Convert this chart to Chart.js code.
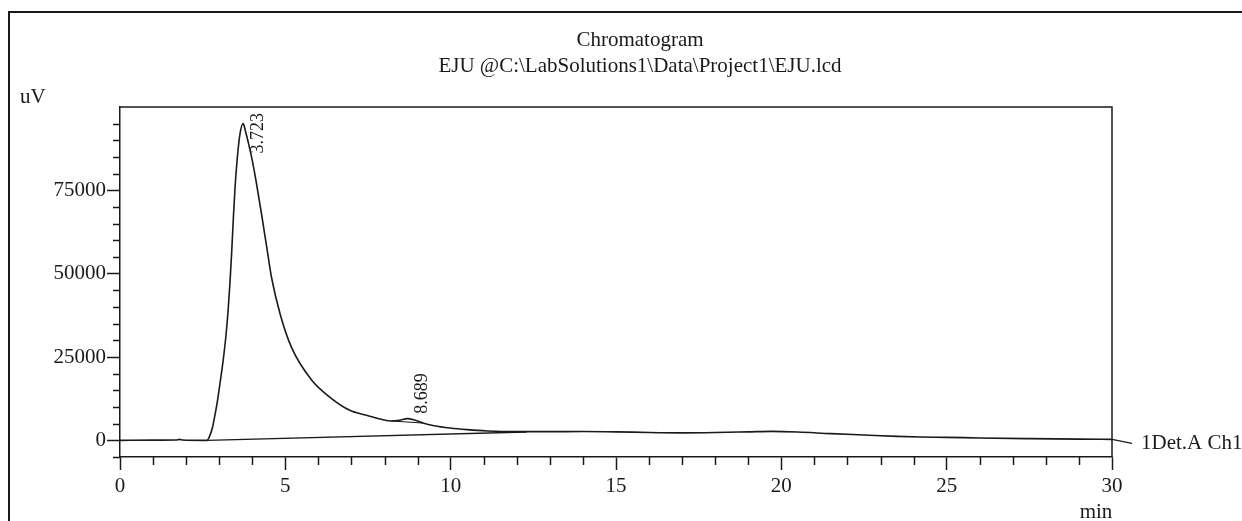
<!DOCTYPE html>
<html>
<head>
<meta charset="utf-8">
<title>Chromatogram</title>
<script src="https://cdn.jsdelivr.net/npm/chart.js@4.4.1/dist/chart.umd.min.js"></script>
<style>
  html, body { margin: 0; padding: 0; background: #fff; }
  #wrap { position: relative; width: 1242px; height: 521px; }
</style>
</head>
<body>
<div id="wrap"><canvas id="myChart" width="1242" height="521"></canvas></div>
<script>
var tiempos = [0, 1.0, 1.7, 1.8, 1.9, 2.5, 2.63, 2.72, 2.8, 2.87, 2.95, 3.03, 3.12, 3.2, 3.27, 3.33,
    3.38, 3.43, 3.48, 3.55, 3.63, 3.723, 3.8, 3.9, 4.0, 4.12, 4.28, 4.44, 4.58, 4.84, 5.19, 5.8,
    6.35, 6.95, 7.45, 7.9, 8.2, 8.45, 8.689, 8.9, 9.16, 9.5, 9.98, 10.5, 11.1, 12.0, 13.0, 14.0,
    15.0, 16.0, 17.0, 18.0, 19.0, 19.7, 20.5, 21.5, 22.5, 23.5, 24.2, 25.0, 26.0, 27.5, 29.0, 30.0];
var senal = [0, 50, 100, 300, 100, 0, 0, 1500, 4000, 7500, 12000, 17500, 24000, 31000, 39000, 48000,
    57000, 67000, 76000, 85000, 92000, 95000, 92500, 88500, 84000, 77500, 67900, 57800, 49000, 38000, 27800, 18000,
    12900, 9000, 7500, 6300, 5800, 6000, 6500, 6100, 5200, 4400, 3700, 3200, 2800, 2600, 2600, 2650,
    2550, 2350, 2250, 2350, 2550, 2700, 2500, 2000, 1600, 1200, 1000, 900, 700, 500, 350, 300];

// Línea base de integración del pico principal y del pico pequeño
var baseTiempos = [2.63, 12.3];
var baseSenal = [0, 2500];
var basePicoTiempos = [8.2, 9.16];
var basePicoSenal = [5800, 5200];

// Picos marcados
var picosTiempo = [3.723, 8.689];
var picosSenal = [95000, 6500];
var picosEtiqueta = ['3.723', '8.689'];

// Marcas de los ejes
var ticksX = [0, 5, 10, 15, 20, 25, 30];
var ticksY = [0, 25000, 50000, 75000];

var fuente = '"Liberation Serif", "DejaVu Serif", serif';
var colorTinta = '#1a1a1a';

function puntos(xs, ys) {
    return xs.map(function (x, i) { return { x: x, y: ys[i] }; });
}

// Plugin para el marco, las marcas menores y los textos
var decoracion = {
    id: 'decoracion',
    afterDraw: function (chart) {
        var ctx = chart.ctx;
        var area = chart.chartArea;
        var sx = chart.scales.x;
        var sy = chart.scales.y;
        ctx.save();
        ctx.strokeStyle = colorTinta;
        ctx.fillStyle = colorTinta;

        // Marco exterior
        ctx.lineWidth = 2;
        ctx.beginPath();
        ctx.moveTo(1242, 12);
        ctx.lineTo(9, 12);
        ctx.lineTo(9, 521);
        ctx.stroke();

        // Marco superior y derecho del gráfico
        ctx.lineWidth = 1.5;
        ctx.beginPath();
        ctx.moveTo(area.left, area.top);
        ctx.lineTo(area.right, area.top);
        ctx.lineTo(area.right, area.bottom);
        ctx.stroke();

        // Marcas menores
        ctx.lineWidth = 1.5;
        ctx.beginPath();
        for (var t = 0; t <= 30; t++) {
            if (t % 5 === 0) continue;
            var px = Math.round(sx.getPixelForValue(t)) + 0.5;
            ctx.moveTo(px, area.bottom);
            ctx.lineTo(px, area.bottom + 8);
        }
        for (var v = -5000; v < 100000; v += 5000) {
            if (v % 25000 === 0) continue;
            var py = Math.round(sy.getPixelForValue(v)) + 0.5;
            ctx.moveTo(area.left - 7, py);
            ctx.lineTo(area.left, py);
        }
        ctx.stroke();

        // Títulos
        ctx.font = '21px ' + fuente;
        ctx.textAlign = 'center';
        ctx.textBaseline = 'middle';
        ctx.fillText('Chromatogram', 640, 40);
        ctx.fillText('EJU @C:\\LabSolutions1\\Data\\Project1\\EJU.lcd', 640, 66);

        ctx.textAlign = 'left';
        ctx.fillText('uV', 20, 97);
        ctx.textAlign = 'center';
        ctx.fillText('min', area.right - 16, 512);

        // Etiqueta del detector con su línea guía
        var ultimo = tiempos.length - 1;
        var fx = sx.getPixelForValue(tiempos[ultimo]);
        var fy = sy.getPixelForValue(senal[ultimo]);
        ctx.lineWidth = 1.2;
        ctx.beginPath();
        ctx.moveTo(fx, fy);
        ctx.lineTo(fx + 20, fy + 4);
        ctx.stroke();
        ctx.textAlign = 'left';
        ctx.fillText('1Det.A Ch1', fx + 29, fy + 4);

        // Etiquetas de los picos, giradas
        ctx.font = '18px ' + fuente;
        for (var i = 0; i < picosTiempo.length; i++) {
            var x0 = sx.getPixelForValue(picosTiempo[i]) + 15;
            var y0 = sy.getPixelForValue(picosSenal[i]) - 5;
            var ancho = ctx.measureText(picosEtiqueta[i]).width;
            y0 = Math.max(y0, area.top + 6 + ancho);
            ctx.save();
            ctx.translate(x0, y0);
            ctx.rotate(-Math.PI / 2);
            ctx.textAlign = 'left';
            ctx.textBaseline = 'middle';
            ctx.fillText(picosEtiqueta[i], 0, 0);
            ctx.restore();
        }
        ctx.restore();
    }
};

var ctx = document.getElementById('myChart').getContext('2d');
var myChart = new Chart(ctx, {
    type: 'line',
    data: {
        datasets: [{
            label: '1Det.A Ch1',
            data: puntos(tiempos, senal),
            borderColor: colorTinta,
            borderWidth: 1.6,
            pointRadius: 0,
            cubicInterpolationMode: 'monotone',
            fill: false
        }, {
            label: 'Línea base',
            data: puntos(baseTiempos, baseSenal),
            borderColor: colorTinta,
            borderWidth: 1.4,
            pointRadius: 0,
            fill: false
        }, {
            label: 'Línea base pico',
            data: puntos(basePicoTiempos, basePicoSenal),
            borderColor: colorTinta,
            borderWidth: 1.2,
            pointRadius: 0,
            fill: false
        }]
    },
    options: {
        responsive: false,
        devicePixelRatio: 1,
        animation: false,
        events: [],
        layout: { padding: { left: 20, top: 107, right: 130, bottom: 14 } },
        plugins: {
            legend: { display: false },
            tooltip: { enabled: false },
            title: { display: false }
        },
        scales: {
            x: {
                type: 'linear',
                min: 0,
                max: 30,
                afterBuildTicks: function (scale) {
                    scale.ticks = ticksX.map(function (v) { return { value: v }; });
                },
                afterFit: function (scale) { scale.height = 50; },
                grid: { drawOnChartArea: false, tickLength: 13, tickColor: colorTinta, tickWidth: 1.5 },
                border: { display: true, color: colorTinta, width: 1.5 },
                ticks: {
                    color: colorTinta, font: { family: fuente, size: 21 }, padding: 4,
                    maxRotation: 0, autoSkip: false,
                    callback: function (value) { return String(value); }
                }
            },
            y: {
                type: 'linear',
                min: -5000,
                max: 100000,
                afterBuildTicks: function (scale) {
                    scale.ticks = ticksY.map(function (v) { return { value: v }; });
                },
                afterFit: function (scale) { scale.width = 100; },
                grid: { drawOnChartArea: false, tickLength: 13, tickColor: colorTinta, tickWidth: 1.5 },
                border: { display: true, color: colorTinta, width: 1.5 },
                ticks: {
                    color: colorTinta, font: { family: fuente, size: 21 }, padding: 1, autoSkip: false,
                    callback: function (value) { return String(value); }
                }
            }
        }
    },
    plugins: [decoracion]
});
</script>
</body>
</html>
